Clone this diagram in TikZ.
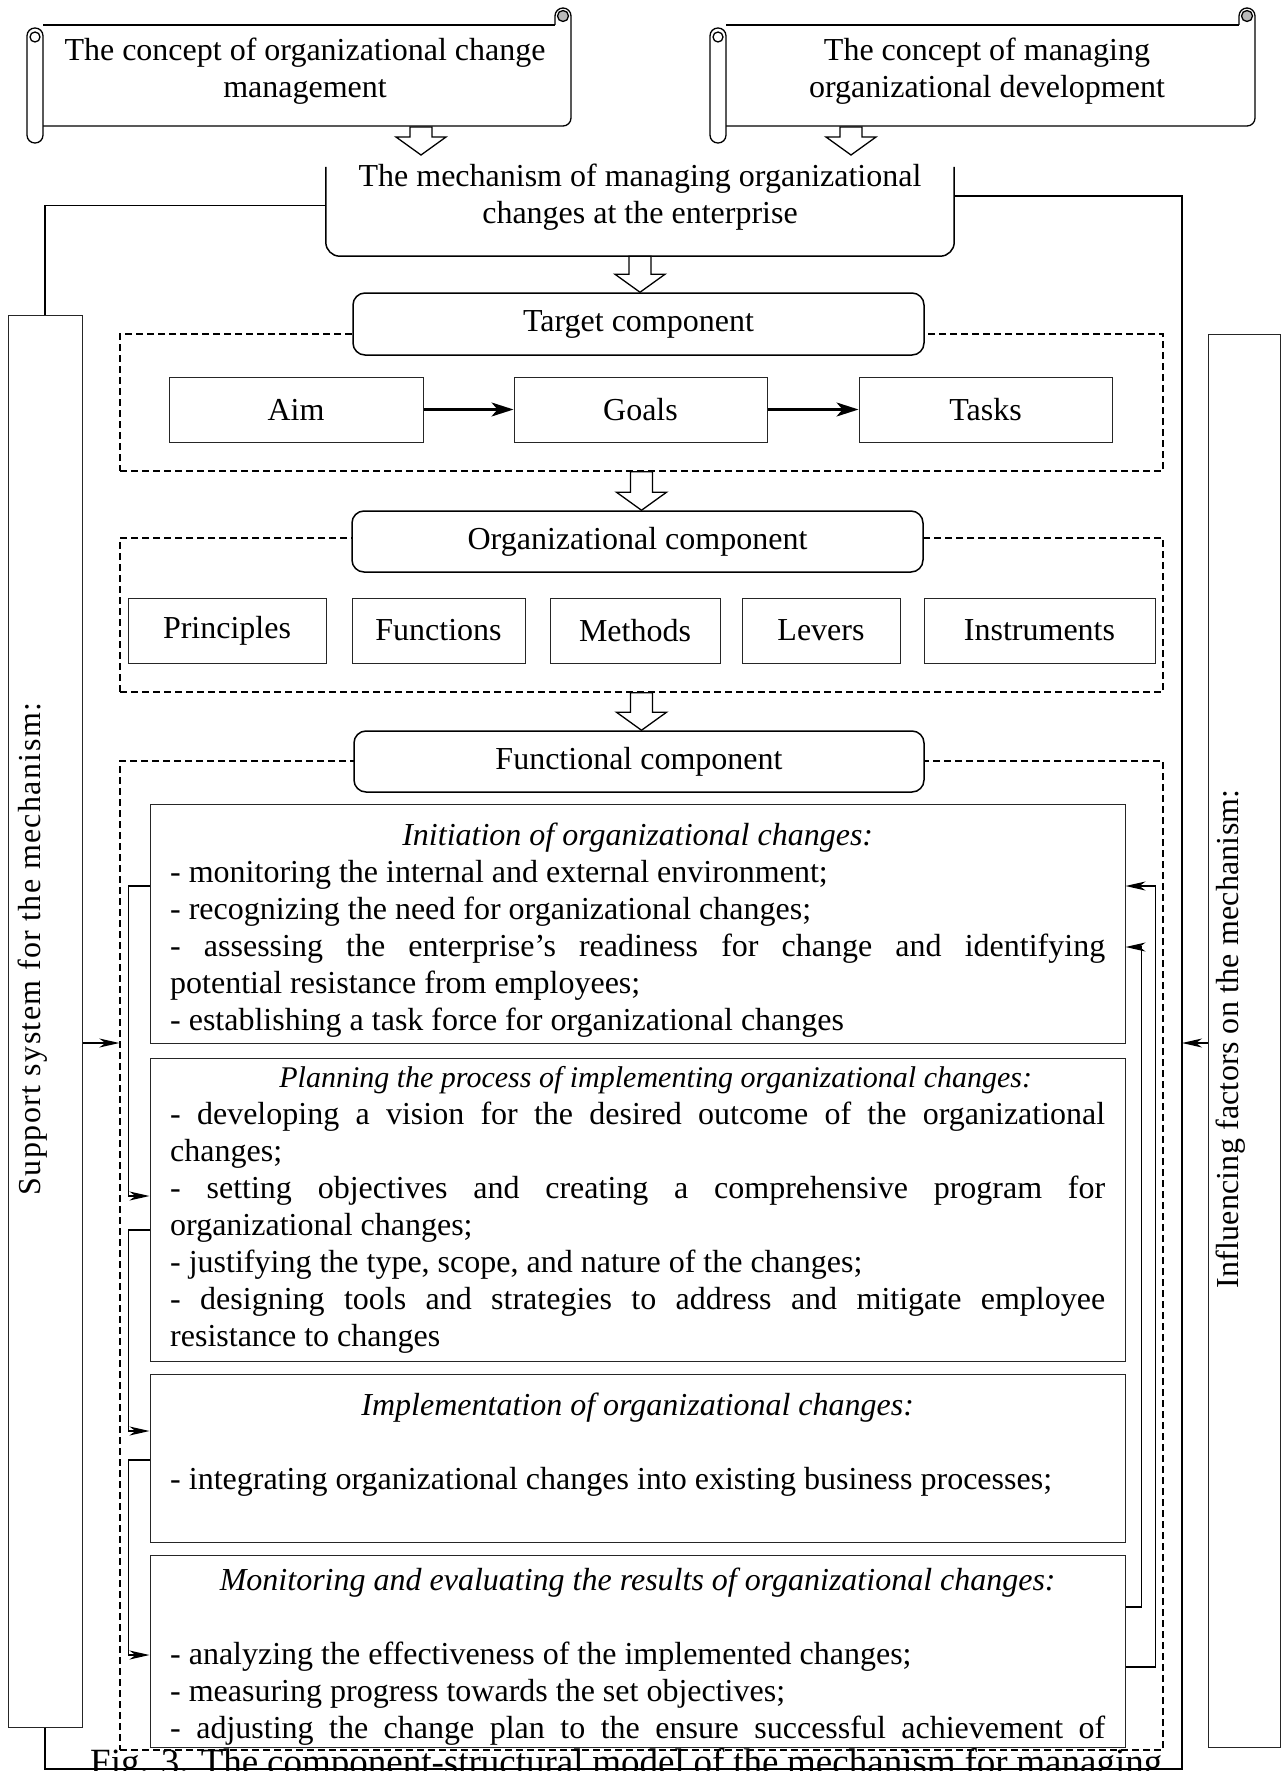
\documentclass[tikz,border=0pt]{standalone}
\usepackage{fontspec}
\setmainfont{Liberation Serif}
\usetikzlibrary{arrows.meta,calc}

% plain inter-word spaces of the font
\newcommand\normspace{\spaceskip=0pt\xspaceskip=0pt\relax}
% one justified line of the given width
\newcommand\jline[2][935pt]{{\normspace\makebox[#1][s]{#2}}}

% horizontal scroll outline: body from x=#1 to x=#2
\newcommand\scrollframe[2]{%
  \draw[scrollline] (#1,25) -- ({#2-16},25);
  \draw[scrollline, rounded corners=8pt] ({#2-16},25) -- ({#2-16},8) -- (#2,8) -- (#2,126) -- (#1,126);
  \filldraw[scrollline, fill=gray!55] ({#2-8},16) circle (5.5);
  \draw[scrollline, fill=white, rounded corners=7.9pt] ({#1-16},28) rectangle (#1,143);
  \draw[scrollline] ({#1-8},37) circle (5);
}

% block arrow drawn downwards from #1 to the tip #2
\newcommand\hollowarrow[2]{%
  \path[hollow] let \p1=(#1), \p2=(#2) in
    (\x1-11pt,\y1) -- (\x1+11pt,\y1) -- (\x1+11pt,\y2+18pt) -- (\x1+25pt,\y2+18pt)
    -- (\x1,\y2) -- (\x1-25pt,\y2+18pt) -- (\x1-11pt,\y2+18pt) -- cycle;
}

\tikzset{
  every node/.style={font=\fontsize{32}{37}\selectfont, inner sep=0pt},
  scrollline/.style={line width=1.3pt},
  plainbox/.style={draw=black!85, line width=1pt, fill=white},
  roundbox/.style={draw, line width=1.5pt, fill=white, rounded corners=12pt},
  dashframe/.style={draw, line width=1.3pt, dash pattern=on 7pt off 4pt},
  link/.style={line width=1.5pt},
  linkarrow/.style={line width=1.5pt, -{Stealth[length=20pt,width=9pt,inset=6pt]}},
  boldarrow/.style={line width=2.2pt, -{Stealth[length=22pt,width=14pt,inset=6pt]}},
  hollow/.style={draw, line width=1.3pt, fill=white},
  textblock/.style={anchor=north west, align=justify, text width=935pt},
}

\begin{document}
\begin{tikzpicture}[x=1pt,y=-1pt]
\useasboundingbox (0,0) rectangle (1283,1771);
\clip (0,0) rectangle (1283,1771);

% ---------- concepts (scrolls) ----------
\scrollframe{43}{571}
\scrollframe{726}{1255}
\node[align=center] (s1) at (305,71.5) {\normspace The concept of organizational change\\management};
\node[align=center] (s2) at (987,71.5) {\normspace The concept of managing\\organizational development};

% ---------- the mechanism ----------
\node[minimum width=628pt, minimum height=101pt] (mech) at (640,205.5) {};
\draw[line width=1.5pt, rounded corners=14pt] ([yshift=-12pt]mech.north west) -- (mech.south west)
  -- (mech.south east) -- ([yshift=-12pt]mech.north east);
\node[align=center] (mechtext) at (640,197.5) {\normspace The mechanism of managing organizational\\changes at the enterprise};

\coordinate (a1top) at (421,127);
\coordinate (a1tip) at (421,155);
\coordinate (a2top) at (851,127);
\coordinate (a2tip) at (851,155);
\hollowarrow{a1top}{a1tip}
\hollowarrow{a2top}{a2tip}

% ---------- side blocks ----------
\node[plainbox, minimum width=74pt, minimum height=1412pt] (support) at (45,1021) {};
\node[plainbox, minimum width=72pt, minimum height=1413pt] (infl) at (1244,1040.5) {};
\node[rotate=90] (suptext) at (33,949) {\addfontfeature{LetterSpace=4.4}Support system for the mechanism:};
\node[rotate=90] (infltext) at (1231,1039) {\addfontfeature{LetterSpace=0.7}Influencing factors on the mechanism:};

% ---------- dashed frames of the components ----------
\node[dashframe, minimum width=1043pt, minimum height=137pt] (d1) at (641.5,402.5) {};
\node[dashframe, minimum width=1043pt, minimum height=154pt] (d2) at (641.5,615) {};
\node[dashframe, minimum width=1043pt, minimum height=989pt] (d3) at (641.5,1255.5) {};

% ---------- target component ----------
\node[roundbox, minimum width=571pt, minimum height=62pt] (tgt) at (638.5,324) {Target component};
\node[plainbox, minimum width=254pt, minimum height=65pt] (aim) at (296,409.5) {Aim};
\node[plainbox, minimum width=253pt, minimum height=65pt] (goals) at (640.5,409.5) {Goals};
\node[plainbox, minimum width=253pt, minimum height=65pt] (tasks) at (985.5,409.5) {Tasks};
\draw[boldarrow] (aim) -- (goals);
\draw[boldarrow] (goals) -- (tasks);

% ---------- organizational component ----------
\node[roundbox, minimum width=571pt, minimum height=61pt] (org) at (637.5,541.5) {Organizational component};
\node[plainbox, minimum width=198pt, minimum height=65pt] (princ) at (227,630.5) {Principles};
\node[plainbox, minimum width=173pt, minimum height=65pt] (funcs) at (438.5,630.5) {Functions};
\node[plainbox, minimum width=170pt, minimum height=65pt] (meth) at (635,630.5) {Methods};
\node[plainbox, minimum width=158pt, minimum height=65pt] (lev) at (821,630.5) {Levers};
\node[plainbox, minimum width=231pt, minimum height=65pt] (instr) at (1039.5,630.5) {Instruments};

% ---------- functional component ----------
\node[roundbox, minimum width=570pt, minimum height=61pt] (func) at (639,761.5) {Functional component};

\node[plainbox, minimum width=975pt, minimum height=239pt] (init) at (637.5,923.5) {};
\node[plainbox, minimum width=975pt, minimum height=303pt] (plan) at (637.5,1209.5) {};
\node[plainbox, minimum width=975pt, minimum height=168pt] (impl) at (637.5,1458) {};
\node[plainbox, minimum width=975pt, minimum height=192pt] (mon) at (637.5,1651) {};

\node[textblock] (inittext) at (170,819) {\normspace
\strut\makebox[935pt][c]{\itshape Initiation of organizational changes:}\\
- monitoring the internal and external environment;\\
- recognizing the need for organizational changes;\\
\jline{- assessing the enterprise’s readiness for change and identifying}\\
potential resistance from employees;\\
- establishing a task force for organizational changes};

\node[textblock] (plantext) at (170,1061) {\normspace
\strut\makebox[935pt][c]{\hspace{36pt}\fontsize{30}{37}\selectfont\itshape Planning the process of implementing organizational changes:}\\
\jline{- developing a vision for the desired outcome of the organizational}\\
changes;\\
\jline{- setting objectives and creating a comprehensive program for}\\
organizational changes;\\
- justifying the type, scope, and nature of the changes;\\
\jline{- designing tools and strategies to address and mitigate employee}\\
resistance to changes};

\node[textblock] (impltext) at (170,1389) {\normspace
\strut\makebox[935pt][c]{\itshape Implementation of organizational changes:}\\[37pt]
- integrating organizational changes into existing business processes;};

\node[textblock] (montext) at (170,1564) {\normspace
\strut\makebox[935pt][c]{\itshape Monitoring and evaluating the results of organizational changes:}\\[37pt]
- analyzing the effectiveness of the implemented changes;\\
- measuring progress towards the set objectives;\\
\jline{- adjusting the change plan to the ensure successful achievement of}};

% ---------- block arrows between the components ----------
\hollowarrow{mech.south}{tgt.north}
\hollowarrow{d1.south}{org.north}
\hollowarrow{d2.south}{func.north}

% ---------- links between the stages ----------
\coordinate (yA) at (0,886);
\coordinate (yB) at (0,1196);
\coordinate (yC) at (0,1230);
\coordinate (yD) at (0,1431);
\coordinate (yE) at (0,1460);
\coordinate (yF) at (0,1655);
\coordinate (yG) at (0,1607);
\coordinate (yH) at (0,947);
\coordinate (yI) at (0,1667);
\coordinate (ySup) at (0,1043);

\draw[linkarrow] (init.west |- yA) -- ++(-21,0) |- (plan.west |- yB);
\draw[linkarrow] (plan.west |- yC) -- ++(-21,0) |- (impl.west |- yD);
\draw[linkarrow] (impl.west |- yE) -- ++(-21,0) |- (mon.west |- yF);
\draw[linkarrow] (mon.east |- yG) -- ++(16,0) |- (init.east |- yH);
\draw[linkarrow] (mon.east |- yI) -- ++(30,0) |- (init.east |- yA);

% ---------- outer feedback frame ----------
\coordinate (frameBR) at (1182,1769);
\draw[link] (mech.west) -| (support.north);
\draw[link] (support.south) |- (frameBR) |- ([yshift=9.5pt]mech.east);
\draw[linkarrow] (support.east |- ySup) -- (d3.west |- ySup);
\draw[linkarrow] (infl.west |- ySup) -- (frameBR |- ySup);

% ---------- caption ----------
\node[anchor=base west, font=\fontsize{37}{40}\selectfont] (caption) at (90,1774)
  {\jline[1072pt]{Fig. 3. The component-structural model of the mechanism for managing}};
\end{tikzpicture}
\end{document}
